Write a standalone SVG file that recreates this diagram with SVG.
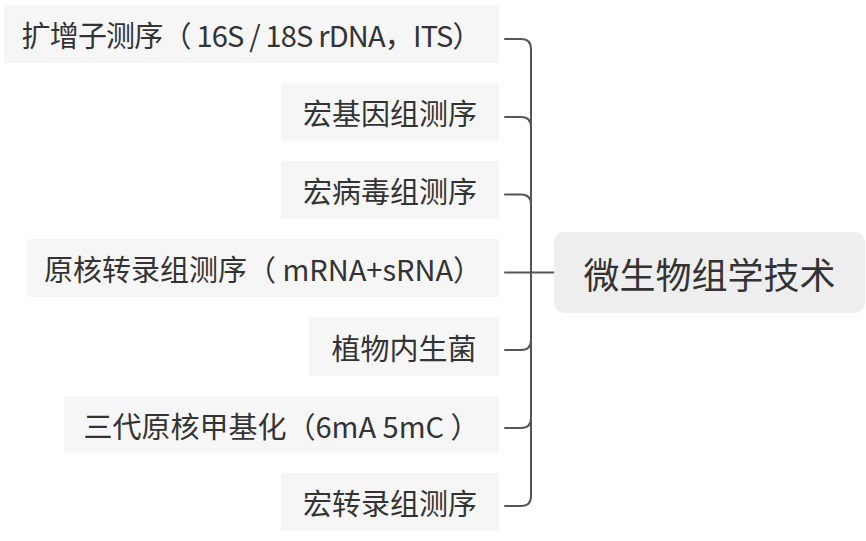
<svg xmlns="http://www.w3.org/2000/svg" width="866" height="541" viewBox="0 0 866 541">
<style>
.child rect{fill:#f6f6f6;}
.child text{font-family:"Noto Sans CJK SC","Noto Sans",sans-serif;font-size:29px;fill:#333333;text-anchor:middle;dominant-baseline:central;}
.root rect{fill:#eeeeee;}
.root text{font-family:"Noto Sans CJK SC","Noto Sans",sans-serif;font-size:36px;fill:#333333;text-anchor:middle;dominant-baseline:central;}
#connectors path{fill:none;stroke:#555555;stroke-width:2;stroke-linecap:round;}
</style>
<rect width="866" height="541" fill="#ffffff"/>
<g id="connectors">
<path d="M531,272.5 V49 Q531,39 521,39 H505"/>
<path d="M531,272.5 V127 Q531,117 521,117 H505"/>
<path d="M531,272.5 V204.5 Q531,194.5 521,194.5 H505"/>
<path d="M554,272.5 H505"/>
<path d="M531,272.5 V340 Q531,350 521,350 H505"/>
<path d="M531,272.5 V418 Q531,428 521,428 H505"/>
<path d="M531,272.5 V496 Q531,506 521,506 H505"/>
</g>
<g id="root" class="root">
<rect x="554" y="232" width="311" height="81" rx="10" ry="10"/>
<text x="709.5" y="272.5">微生物组学技术</text>
</g>
<g id="n1" class="child">
<rect x="4" y="5" width="495" height="58"/>
<text x="251.5" y="34" textLength="460" lengthAdjust="spacing">扩增子测序（ 16S / 18S rDNA，ITS）</text>
</g>
<g id="n2" class="child">
<rect x="281" y="83" width="218" height="58"/>
<text x="390" y="112">宏基因组测序</text>
</g>
<g id="n3" class="child">
<rect x="281" y="161" width="218" height="58"/>
<text x="390" y="190">宏病毒组测序</text>
</g>
<g id="n4" class="child">
<rect x="27.5" y="239" width="471.5" height="58"/>
<text x="263" y="268">原核转录组测序（ mRNA+sRNA）</text>
</g>
<g id="n5" class="child">
<rect x="309" y="317" width="190" height="59"/>
<text x="404" y="346.5">植物内生菌</text>
</g>
<g id="n6" class="child">
<rect x="64" y="396" width="435" height="57"/>
<text x="281.5" y="424.5">三代原核甲基化（6mA 5mC ）</text>
</g>
<g id="n7" class="child">
<rect x="281" y="473" width="218" height="58"/>
<text x="390" y="502">宏转录组测序</text>
</g>
</svg>
